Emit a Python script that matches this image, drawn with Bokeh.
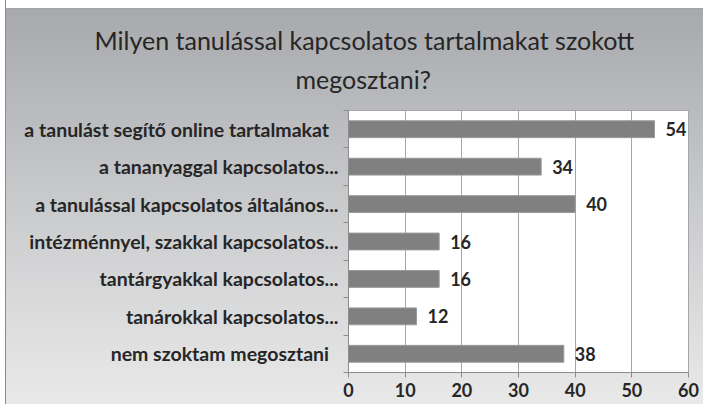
from bokeh.plotting import figure
from bokeh.models import FixedTicker, Range1d, ColumnDataSource, Title
from bokeh.core.properties import value
from bokeh.embed import file_html
from bokeh.resources import INLINE

title_lines = ["Milyen tanulással kapcsolatos tartalmakat szokott", "megosztani?"]
categories = [
    "a tanulást segítő online tartalmakat\u00a0\u00a0",
    "a tananyaggal kapcsolatos...",
    "a tanulással kapcsolatos általános...",
    "intézménnyel, szakkal kapcsolatos...",
    "tantárgyakkal kapcsolatos...",
    "tanárokkal kapcsolatos...",
    "nem szoktam megosztani\u00a0\u00a0",
]
counts = [54, 34, 40, 16, 16, 12, 38]
x_ticks = [0, 10, 20, 30, 40, 50, 60]

n = len(categories)
ys = [n - 1 - i for i in range(n)]
src = ColumnDataSource(dict(y=ys, v=counts, lbl=[str(c) for c in counts]))

FONT = "Lato"
DARK = "#262626"

p = figure(width=703, height=404, output_backend="svg", toolbar_location=None, title=None,
           x_range=Range1d(0, 60), y_range=Range1d(-0.5, n - 0.5),
           min_border_left=348, min_border_right=15, min_border_top=110, min_border_bottom=32)
p.styles = {"background":
            "linear-gradient(to right, white 0px, white 5px, #8a8a8a 5px, #8a8a8a 6px, transparent 6px), "
            "linear-gradient(to bottom, white 0px, white 8px, #9c9da1 8px, #a8a9ad 9px, #c9cacc 50%, #e9e9e9 100%)"}
p.border_fill_color = None
p.background_fill_color = "white"
p.outline_line_color = "#a6a6a6"

# line 2 first (closest to frame), then line 1 above it
p.add_layout(Title(text=title_lines[1], align="left", offset=-53, standoff=34,
                   text_font=FONT, text_font_size="25px", text_font_style="normal",
                   text_color=DARK), "above")
p.add_layout(Title(text=title_lines[0], align="left", offset=-254, standoff=-20,
                   text_font=FONT, text_font_size="25px", text_font_style="normal",
                   text_color=DARK), "above")

p.hbar(y="y", right="v", height=0.45, left=0, source=src,
       fill_color="#808080", line_color="#9a9a9a", line_width=1)
p.text(x="v", y="y", text="lbl", source=src, x_offset=11,
       text_baseline="middle", text_align="left",
       text_font=value(FONT), text_font_style="bold", text_font_size="18px", text_color=DARK)

xa = p.xaxis[0]
xa.ticker = FixedTicker(ticks=x_ticks)
xa.major_tick_in = 0
xa.major_tick_out = 5
xa.minor_tick_line_color = None
xa.axis_line_color = "#8c8c8c"
xa.major_tick_line_color = "#8c8c8c"
xa.major_label_text_font = FONT
xa.major_label_text_font_style = "bold"
xa.major_label_text_font_size = "18px"
xa.major_label_text_color = DARK
xa.major_label_standoff = 5

ya = p.yaxis[0]
ya.ticker = FixedTicker(ticks=ys, minor_ticks=[k - 0.5 for k in range(n + 1)])
ya.major_label_overrides = {y: c for y, c in zip(ys, categories)}
ya.major_tick_line_color = None
ya.major_tick_out = 0
ya.major_tick_in = 0
ya.minor_tick_in = 0
ya.minor_tick_out = 5
ya.minor_tick_line_color = "#8c8c8c"
ya.axis_line_color = "#8c8c8c"
ya.major_label_text_font = FONT
ya.major_label_text_font_style = "bold"
ya.major_label_text_font_size = "19.5px"
ya.major_label_text_color = DARK
ya.major_label_standoff = 5

p.xgrid.grid_line_color = "#a6a6a6"
p.xgrid.ticker = FixedTicker(ticks=x_ticks)
p.ygrid.grid_line_color = None

open("out.html", "w").write(file_html(p, INLINE))
